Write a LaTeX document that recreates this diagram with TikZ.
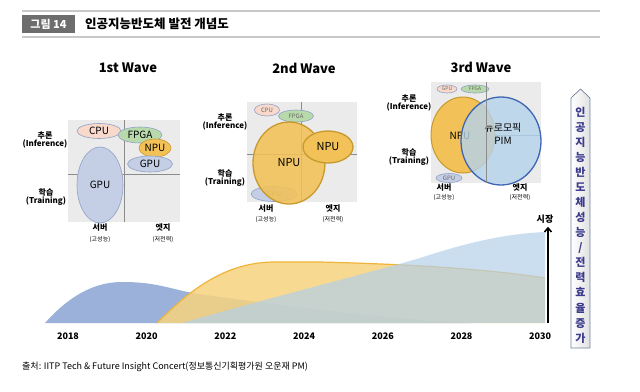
\documentclass[tikz,border=0pt]{standalone}
\usepackage{fontspec}
\setmainfont{Noto Sans CJK KR}
\usetikzlibrary{shapes.geometric,arrows.meta}
\definecolor{quadbg}{HTML}{EBEBEB}
\definecolor{quadln}{HTML}{8C8C8C}
\definecolor{cpuf}{HTML}{F8D9CC}
\definecolor{fpgaf}{HTML}{B8DAAB}
\definecolor{npuf}{HTML}{F2C157}
\definecolor{npud}{HTML}{C79A2E}
\definecolor{gpuf}{HTML}{C4CEE4}
\definecolor{gpud}{HTML}{8FA2C7}
\definecolor{pimf}{HTML}{B5D2EC}
\definecolor{pimd}{HTML}{3F66B3}
\definecolor{navy}{HTML}{3B3A8C}
\definecolor{wave1}{HTML}{9BB1DA}
\definecolor{wave2}{HTML}{F6D27E}
\definecolor{wave2d}{HTML}{EEB53A}
\definecolor{wave3}{HTML}{B3D0EA}
\definecolor{hdrgray}{HTML}{6D6D6D}
\definecolor{hline}{HTML}{C8C8C8}
\tikzset{
  chip/.style={ellipse, inner sep=0pt, draw=gpud, line width=0.6pt},
  wavetitle/.style={font=\bfseries\fontsize{13}{15}\selectfont},
  axlab/.style={font=\bfseries\fontsize{8}{9}\selectfont, align=center},
  axsub/.style={font=\fontsize{6}{7}\selectfont},
  yearlab/.style={font=\bfseries\fontsize{9}{10}\selectfont},
}
\begin{document}
\begin{tikzpicture}[x=1pt,y=-1pt]
\useasboundingbox (0,0) rectangle (640,391);
% header
\draw[hline, line width=1.2pt] (22,11) -- (600,11);
\draw[hline, line width=1.2pt] (22,37) -- (600,37);
\node[fill=hdrgray, text=white, font=\bfseries\fontsize{11}{12}\selectfont, minimum width=53, minimum height=18, inner sep=0pt] (fig) at (48.5,24) {그림 14};
\node[anchor=west, font=\bfseries\fontsize{12.5}{13}\selectfont, inner sep=0pt] (title) at (85,24) {인공지능반도체 발전 개념도};

% ---------- 1st wave ----------
\node[wavetitle] (w1) at (128,68) {1st Wave};
\fill[quadbg] (68,120) rectangle (180,222);
\draw[quadln, line width=0.8pt] (124,120) -- (124,222);
\draw[quadln, line width=0.8pt] (68,174) -- (180,174);
\node[chip, fill=gpuf, minimum width=46, minimum height=76, font=\fontsize{10}{11}\selectfont] (gpu1b) at (100,185) {GPU};
\node[chip, fill=cpuf, minimum width=44, minimum height=15, font=\fontsize{10}{11}\selectfont] (cpu1) at (99,131) {CPU};
\node[chip, fill=fpgaf, minimum width=44, minimum height=16, font=\fontsize{10}{11}\selectfont] (fpga1) at (140,135) {FPGA};
\node[chip, fill=npuf, draw=npud, minimum width=32, minimum height=18, font=\fontsize{10}{11}\selectfont] (npu1) at (155,148) {NPU};
\node[chip, fill=gpuf, minimum width=45, minimum height=16, font=\fontsize{10}{11}\selectfont] (gpu1s) at (150,164) {GPU};
\node[axlab] (inf1) at (45,140) {추론\\[-1pt](Inference)};
\node[axlab] (tr1) at (46,197) {학습\\[-1pt](Training)};
\node[axlab] (sv1) at (100,228) {서버};
\node[axsub] (sv1s) at (100,240) {(고성능)};
\node[axlab] (ed1) at (163,228) {엣지};
\node[axsub] (ed1s) at (163,240) {(저전력)};

% ---------- 2nd wave ----------
\node[wavetitle] (w2) at (304,68) {2nd Wave};
\fill[quadbg] (247,102) rectangle (357,202);
\draw[quadln, line width=0.8pt] (301,102) -- (301,202);
\draw[quadln, line width=0.8pt] (247,154) -- (357,154);
\node[chip, fill=cpuf, minimum width=25, minimum height=12, font=\fontsize{6}{7}\selectfont, text=black!60] (cpu2) at (267,110) {CPU};
\node[chip, fill=fpgaf, minimum width=35, minimum height=12, font=\fontsize{6}{7}\selectfont, text=black!60] (fpga2) at (296,116) {FPGA};
\node[chip, fill=gpuf, minimum width=46, minimum height=15, font=\fontsize{7}{8}\selectfont, text=black!50] (gpu2) at (274,194) {GPU};
\node[chip, fill=npuf, draw=npud, line width=1.3pt, fill opacity=0.88, text opacity=1, minimum width=72, minimum height=82, font=\fontsize{11}{12}\selectfont] (npu2b) at (289,163) {NPU};
\node[chip, fill=npuf, draw=npud, line width=1.3pt, minimum width=50, minimum height=32, font=\fontsize{11}{12}\selectfont] (npu2s) at (328,147) {NPU};
\node[axlab] (inf2) at (225,122) {추론\\[-1pt](Inference)};
\node[axlab] (tr2) at (225,178) {학습\\[-1pt](Training)};
\node[axlab] (sv2) at (266,209) {서버};
\node[axsub] (sv2s) at (266,220) {(고성능)};
\node[axlab] (ed2) at (333,209) {엣지};
\node[axsub] (ed2s) at (333,220) {(저전력)};

% ---------- 3rd wave ----------
\node[wavetitle] (w3) at (481,67) {3rd Wave};
\fill[quadbg] (431,82) rectangle (541,183);
\draw[quadln, line width=0.8pt] (431,135) -- (541,135);
\node[chip, fill=cpuf, minimum width=20, minimum height=8, font=\fontsize{5}{6}\selectfont, text=black!60] (cpu3) at (447,89) {GPU};
\node[chip, fill=fpgaf, minimum width=28, minimum height=8, font=\fontsize{5}{6}\selectfont, text=black!60] (fpga3) at (475,89) {FPGA};
\node[chip, fill=gpuf, minimum width=26, minimum height=9, font=\fontsize{6}{7}\selectfont, text=black!60] (gpu3) at (449,178) {GPU};
\node[chip, fill=npuf, draw=npud, line width=1pt, minimum width=64, minimum height=76, font=\fontsize{10}{11}\selectfont] (npu3) at (463,135) {};
\node[font=\fontsize{10}{11}\selectfont] (npu3t) at (460,136) {NPU};
\node[chip, fill=pimf, fill opacity=0.8, draw=pimd, line width=1.3pt, minimum width=80, minimum height=88, align=center, font=\fontsize{10}{12}\selectfont, text opacity=1] (pim) at (501,141) {};
\node[align=center, font=\fontsize{10}{13}\selectfont] (pimt) at (503,134) {뉴로모픽\\PIM};
\draw[quadln, line width=0.8pt] (486,82) -- (486,183);
\node[axlab] (inf3) at (409,103) {추론\\[-1pt](Inference)};
\node[axlab] (tr3) at (409,157) {학습\\[-1pt](Training)};
\node[axlab] (sv3) at (444,188) {서버};
\node[axsub] (sv3s) at (444,198) {(고성능)};
\node[axlab] (ed3) at (520,188) {엣지};
\node[axsub] (ed3s) at (520,198) {(저전력)};

% ---------- market curves ----------
\fill[wave1] (45,323) .. controls (70,295) and (95,282) .. (122,282)
  .. controls (160,282) and (170,290) .. (205,295)
  .. controls (300,308) and (400,320) .. (470,323) -- cycle;
\fill[wave2, fill opacity=0.85] (157,323) .. controls (190,290) and (225,262) .. (275,262)
  -- (320,262) .. controls (400,264) and (480,268) .. (545,278) -- (545,323) -- cycle;
\draw[wave2d, line width=1.2pt] (157,323) .. controls (190,290) and (225,262) .. (275,262)
  -- (320,262) .. controls (400,264) and (480,268) .. (545,278);
\fill[wave3, fill opacity=0.7] (182,323) .. controls (280,295) and (380,270) .. (420,258)
  .. controls (460,245) and (500,234) .. (545,232) -- (545,323) -- cycle;

% years
\foreach \yr [count=\i from 0] in {2018,2020,2022,2024,2026,2028,2030}
  \node[yearlab] (y\yr) at (68+78.7*\i,336) {\yr};

% market arrow
\coordinate (mk0) at (548,323);
\node[font=\bfseries\fontsize{9}{10}\selectfont] (mkt) at (545,219) {시장};
\draw[line width=1.6pt, -{Straight Barb[length=4pt,width=7pt]}] (mk0) -- (mkt.south -| mk0);

% performance arrow
\draw[draw=gpud!80!black, line width=0.7pt, left color=white, right color=black!12]
  (571,98) -- (580.5,89) -- (590,98) -- (590,348) -- (571,348) -- cycle;
\node[text=navy, font=\bfseries\fontsize{11}{15.07}\selectfont, align=center] (perf) at (580.5,225)
  {인\\공\\지\\능\\반\\도\\체\\성\\능\\/\\전\\력\\효\\율\\증\\가};

% source
\node[anchor=west, font=\fontsize{9}{10}\selectfont, inner sep=0pt] (src) at (22,367)
  {출처: IITP Tech \& Future Insight Concert(정보통신기획평가원 오운재 PM)};
\end{tikzpicture}
\end{document}
